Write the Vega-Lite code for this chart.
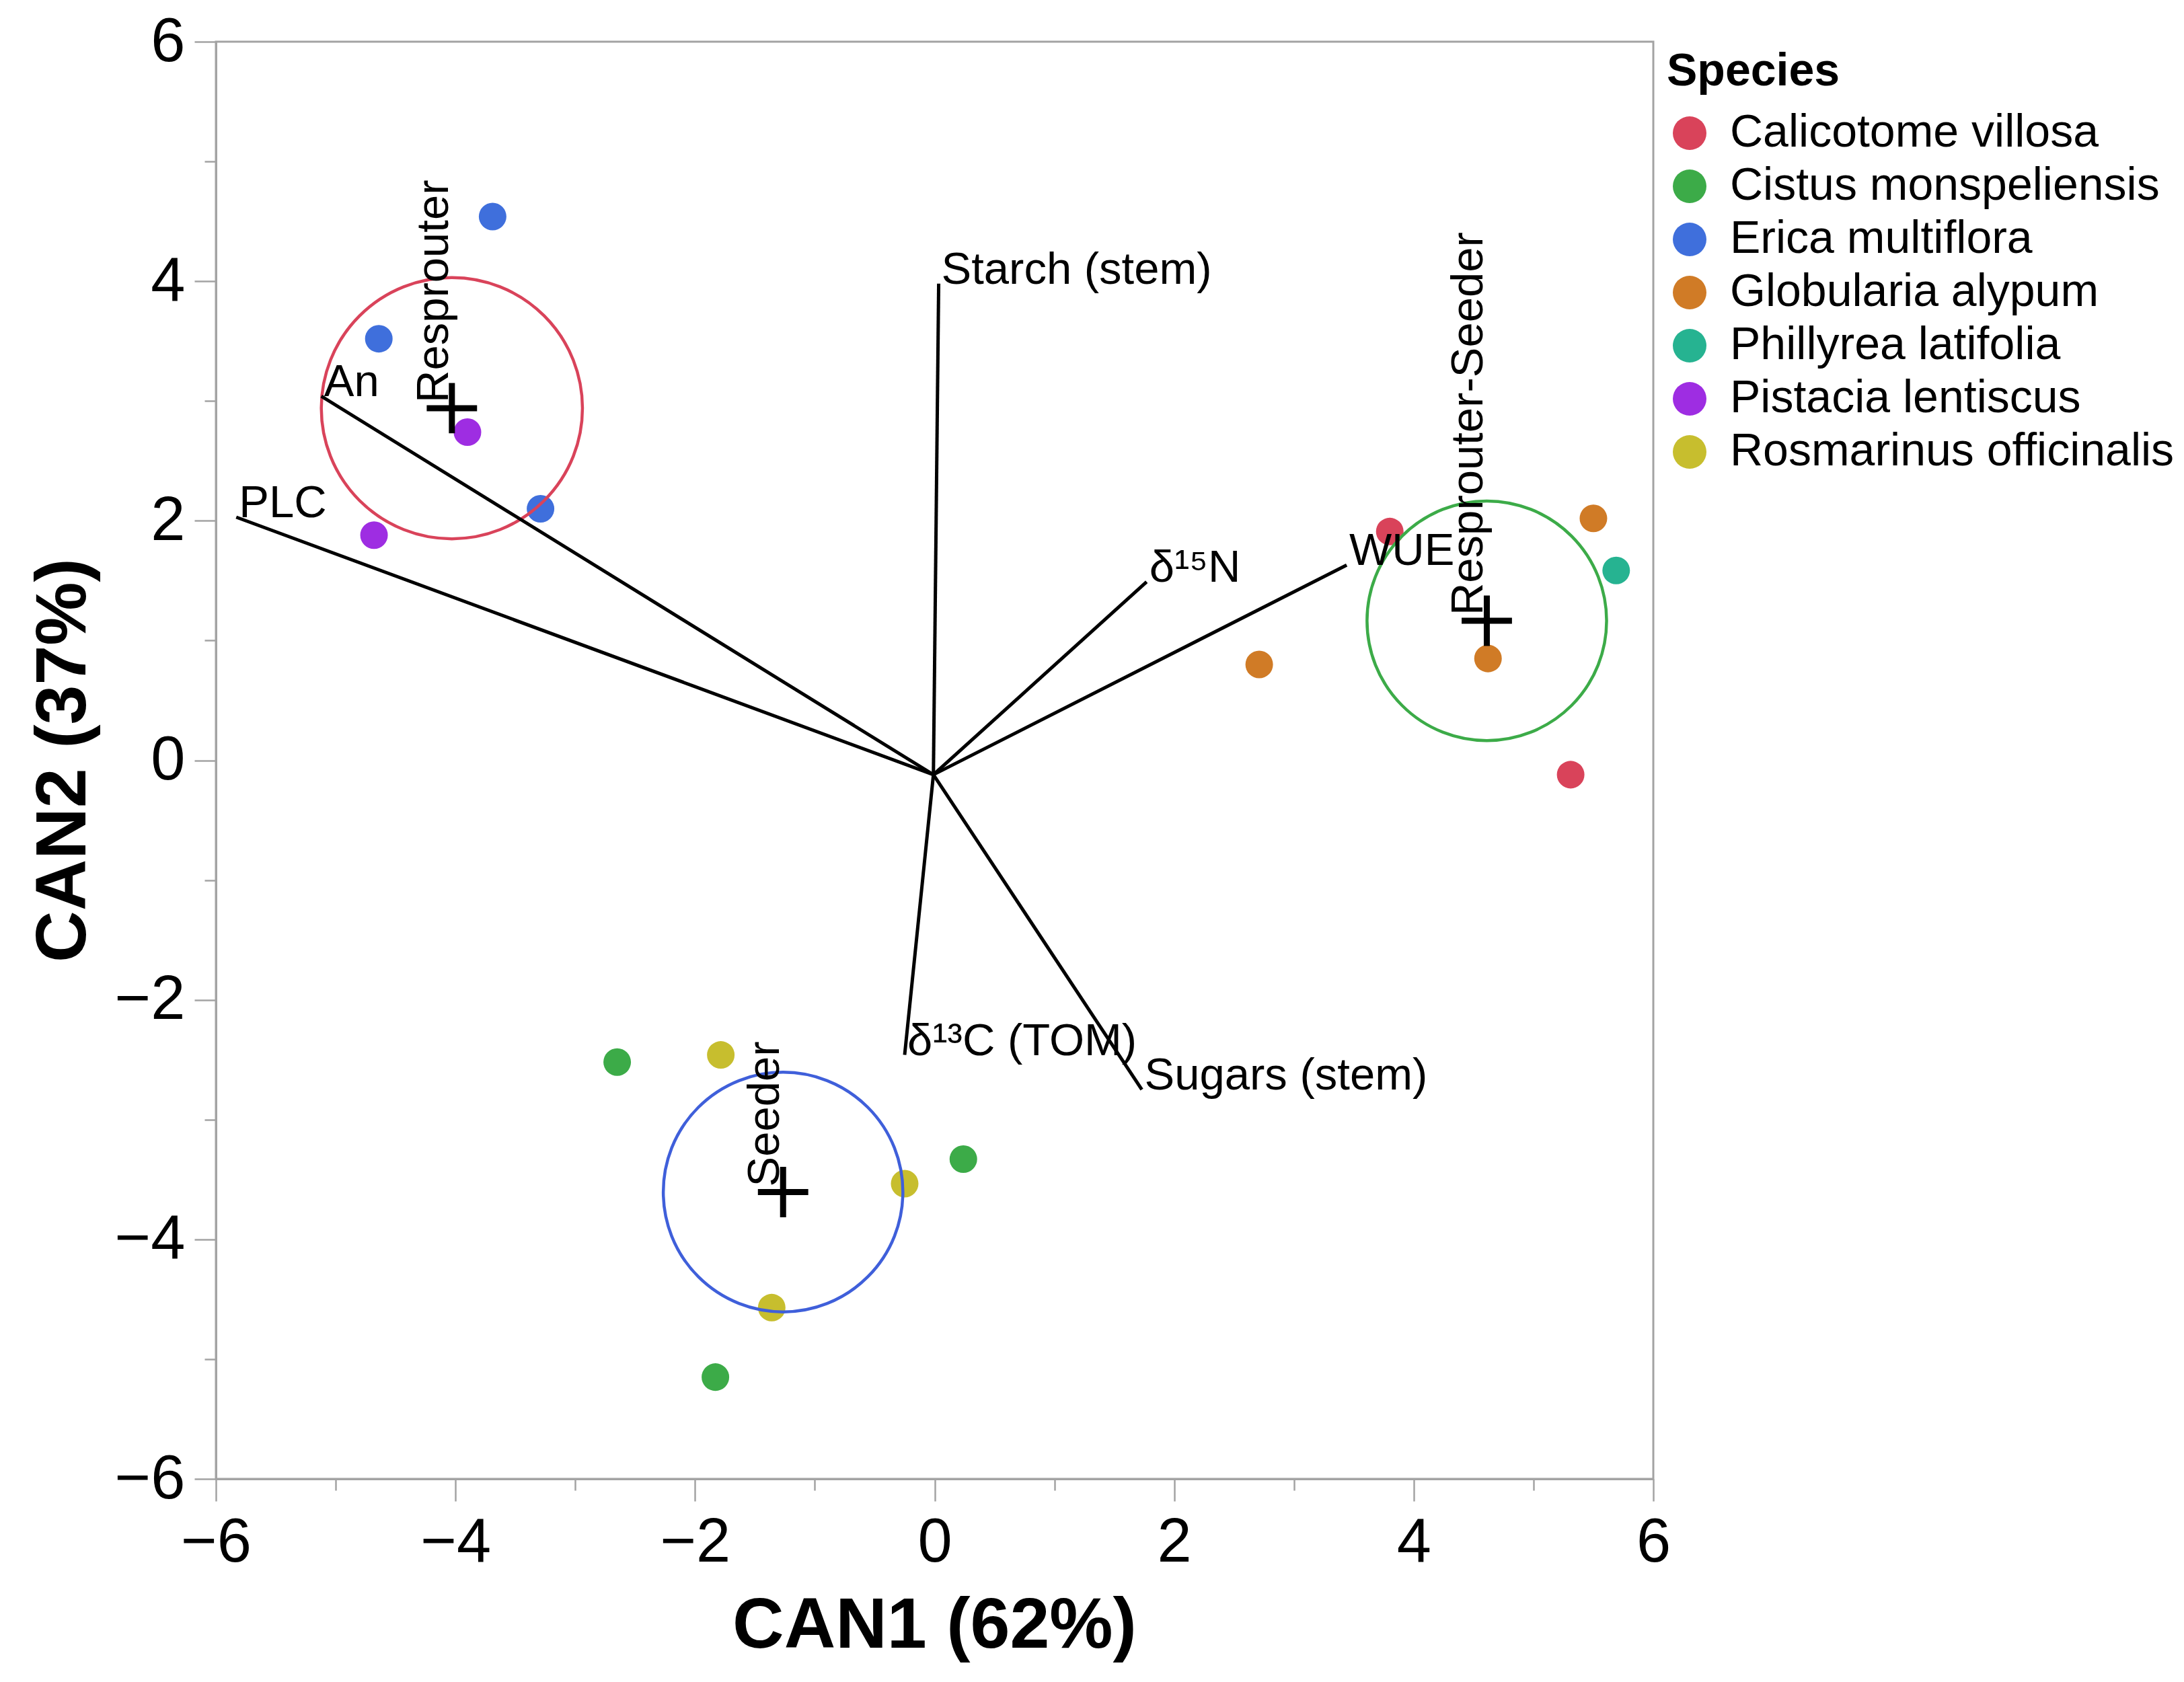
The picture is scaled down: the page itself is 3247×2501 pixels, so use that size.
{
  "$schema": "https://vega.github.io/schema/vega-lite/v6.json",
  "width": 2137,
  "height": 2137,
  "autosize": {"type": "none"},
  "padding": {"left": 321, "top": 62, "right": 789, "bottom": 302},
  "background": "white",
  "config": {
    "view": {"stroke": "#A3A3A3", "strokeWidth": 3},
    "font": "Liberation Sans",
    "axis": {
      "domainColor": "#A3A3A3", "domainWidth": 3, "tickColor": "#A3A3A3", "tickWidth": 2.5,
      "labelFont": "Liberation Sans", "labelFontSize": 92, "labelColor": "black",
      "titleFont": "Liberation Sans", "titleFontSize": 106, "titleFontWeight": "bold", "titleColor": "black",
      "grid": false, "labelFlush": false, "labelOverlap": false, "format": "d"
    }
  },
  "datasets": {
    "obs": [
      {"species": "Erica multiflora", "can1": -3.69, "can2": 4.54},
      {"species": "Erica multiflora", "can1": -4.64, "can2": 3.52},
      {"species": "Erica multiflora", "can1": -3.29, "can2": 2.10},
      {"species": "Pistacia lentiscus", "can1": -3.90, "can2": 2.74},
      {"species": "Pistacia lentiscus", "can1": -4.68, "can2": 1.88},
      {"species": "Calicotome villosa", "can1": 3.80, "can2": 1.91},
      {"species": "Calicotome villosa", "can1": 5.31, "can2": -0.12},
      {"species": "Globularia alypum", "can1": 5.50, "can2": 2.02},
      {"species": "Globularia alypum", "can1": 2.71, "can2": 0.80},
      {"species": "Globularia alypum", "can1": 4.62, "can2": 0.85},
      {"species": "Phillyrea latifolia", "can1": 5.69, "can2": 1.585},
      {"species": "Cistus monspeliensis", "can1": -2.65, "can2": -2.52},
      {"species": "Cistus monspeliensis", "can1": 0.24, "can2": -3.33},
      {"species": "Cistus monspeliensis", "can1": -1.83, "can2": -5.15},
      {"species": "Rosmarinus officinalis", "can1": -1.785, "can2": -2.46},
      {"species": "Rosmarinus officinalis", "can1": -0.25, "can2": -3.535},
      {"species": "Rosmarinus officinalis", "can1": -1.36, "can2": -4.57}
    ],
    "groups": [
      {"group": "Resprouter", "can1": -4.03, "can2": 2.94, "radius": 1.09},
      {"group": "Resprouter-Seeder", "can1": 4.61, "can2": 1.165, "radius": 1.0},
      {"group": "Seeder", "can1": -1.265, "can2": -3.605, "radius": 1.0}
    ],
    "vectors": [
      {"variable": "Starch (stem)", "x0": -0.01, "y0": -0.12, "x1": 0.034, "y1": 3.98},
      {"variable": "An", "x0": -0.01, "y0": -0.12, "x1": -5.12, "y1": 3.04},
      {"variable": "PLC", "x0": -0.01, "y0": -0.12, "x1": -5.83, "y1": 2.03},
      {"variable": "δ¹⁵N", "x0": -0.01, "y0": -0.12, "x1": 1.77, "y1": 1.49},
      {"variable": "WUE", "x0": -0.01, "y0": -0.12, "x1": 3.44, "y1": 1.63},
      {"variable": "δ¹³C (TOM)", "x0": -0.01, "y0": -0.12, "x1": -0.25, "y1": -2.46},
      {"variable": "Sugars (stem)", "x0": -0.01, "y0": -0.12, "x1": 1.73, "y1": -2.75}
    ]
  },
  "layer": [
    {
      "data": {"name": "obs"},
      "mark": {"type": "point", "filled": true, "opacity": 1, "size": 1681, "shape": "circle"},
      "encoding": {
        "x": {"field": "can1", "type": "quantitative", "title": "CAN1 (62%)",
          "scale": {"domain": [-6, 6], "nice": false, "zero": false},
          "axis": {"values": [-6,-5,-4,-3,-2,-1,0,1,2,3,4,5,6],
            "labelExpr": "datum.value % 2 === 0 ? datum.label : ''",
            "tickSize": {"condition": {"test": "datum.value % 2 === 0", "value": 33}, "value": 17},
            "labelPadding": 16, "titleBaseline": "alphabetic", "titleX": 1068, "titleY": 250}},
        "y": {"field": "can2", "type": "quantitative", "title": "CAN2 (37%)",
          "scale": {"domain": [-6, 6], "nice": false, "zero": false},
          "axis": {"values": [-6,-5,-4,-3,-2,-1,0,1,2,3,4,5,6],
            "labelExpr": "datum.value % 2 === 0 ? datum.label : ''",
            "tickSize": {"condition": {"test": "datum.value % 2 === 0", "value": 32}, "value": 17},
            "labelPadding": 14, "titleBaseline": "alphabetic", "titleX": -195, "titleY": 1068}},
        "color": {"field": "species", "type": "nominal", "title": "Species",
          "scale": {"domain": ["Calicotome villosa", "Cistus monspeliensis", "Erica multiflora", "Globularia alypum", "Phillyrea latifolia", "Pistacia lentiscus", "Rosmarinus officinalis"],
            "range": ["#D9435A", "#3CAB48", "#3F6FDC", "#D07B26", "#26B391", "#9E2DE2", "#C7BE2E"]},
          "legend": {"orient": "none", "legendX": 2157, "legendY": 11, "padding": 0,
            "titleFont": "Liberation Sans", "titleFontSize": 68, "titleFontWeight": "bold", "titleColor": "black", "titlePadding": 23, "titleLimit": 1000,
            "labelFont": "Liberation Sans", "labelFontSize": 68, "labelColor": "black", "labelOffset": 26, "labelLimit": 1000,
            "symbolType": "circle", "symbolSize": 2500, "symbolStrokeWidth": 0, "rowPadding": 11}}
      }
    },
    {
      "data": {"name": "groups"},
      "mark": {"type": "point", "filled": false, "shape": "circle", "strokeWidth": 4.5, "opacity": 1},
      "encoding": {
        "x": {"field": "can1", "type": "quantitative"},
        "y": {"field": "can2", "type": "quantitative"},
        "stroke": {"field": "group", "type": "nominal", "legend": null,
          "scale": {"domain": ["Resprouter", "Resprouter-Seeder", "Seeder"], "range": ["#D9435A", "#3CAB48", "#3F5FDA"]}},
        "size": {"field": "radius", "type": "quantitative", "legend": null,
          "scale": {"type": "pow", "exponent": 2, "domain": [0, 1], "range": [0, 126870], "zero": true}}
      }
    },
    {
      "data": {"name": "vectors"},
      "mark": {"type": "rule", "color": "black", "strokeWidth": 5},
      "encoding": {
        "x": {"field": "x0", "type": "quantitative"},
        "y": {"field": "y0", "type": "quantitative"},
        "x2": {"field": "x1"},
        "y2": {"field": "y1"}
      }
    },
    {
      "data": {"name": "vectors"},
      "mark": {"type": "text", "align": "left", "baseline": "alphabetic", "dx": 4, "fontSize": 67, "font": "Liberation Sans", "color": "black"},
      "encoding": {
        "x": {"field": "x1", "type": "quantitative"},
        "y": {"field": "y1", "type": "quantitative"},
        "text": {"field": "variable"}
      }
    },
    {
      "data": {"name": "groups"},
      "mark": {"type": "text", "align": "left", "baseline": "alphabetic", "angle": 270, "dx": 8, "dy": -6, "fontSize": 67, "font": "Liberation Sans", "color": "black"},
      "encoding": {
        "x": {"field": "can1", "type": "quantitative"},
        "y": {"field": "can2", "type": "quantitative"},
        "text": {"field": "group"}
      }
    },
    {
      "data": {"name": "groups"},
      "mark": {"type": "point", "shape": "M-1,0H1M0,-1V1", "filled": false, "stroke": "black", "strokeWidth": 9, "size": 5600, "opacity": 1, "strokeCap": "butt"},
      "encoding": {
        "x": {"field": "can1", "type": "quantitative"},
        "y": {"field": "can2", "type": "quantitative"}
      }
    }
  ],
  "resolve": {"scale": {"size": "independent", "color": "independent"}}
}
